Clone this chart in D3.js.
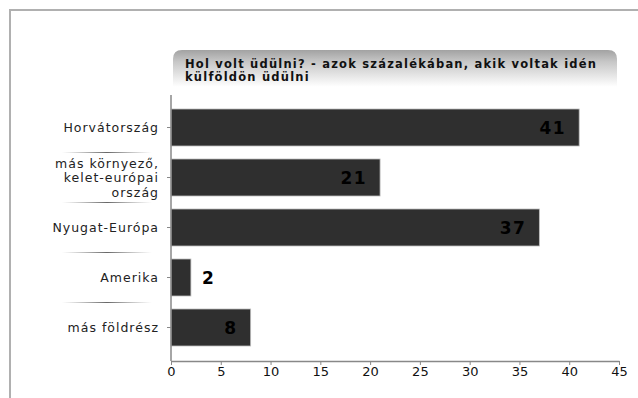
<!DOCTYPE html>
<html><head><meta charset="utf-8">
<script src="https://cdn.jsdelivr.net/npm/d3@7"></script>
<style>body{margin:0;background:#fff}svg{display:block}</style>
</head><body>
<script>
const titleLines = ["Hol volt üdülni? - azok százalékában, akik voltak idén", "külföldön üdülni"];
const categories = ["Horvátország", "más környező, kelet-európai ország", "Nyugat-Európa", "Amerika", "más földrész"];
const categoryLines = [["Horvátország"], ["más környező,", "kelet-európai", "ország"], ["Nyugat-Európa"], ["Amerika"], ["más földrész"]];
const values = [41, 21, 37, 2, 8];
const xTicks = [0, 5, 10, 15, 20, 25, 30, 35, 40, 45];

const W = 638, H = 398;
const svg = d3.select("body").append("svg").attr("width", W).attr("height", H);
const defs = svg.append("defs");
const tg = defs.append("linearGradient").attr("id", "tg").attr("x1", 0).attr("y1", 0).attr("x2", 0).attr("y2", 1);
tg.append("stop").attr("offset", "0%").attr("stop-color", "#a2a2a2");
tg.append("stop").attr("offset", "25%").attr("stop-color", "#c6c6c6");
tg.append("stop").attr("offset", "80%").attr("stop-color", "#ffffff");
const sg = defs.append("linearGradient").attr("id", "sg");
sg.append("stop").attr("offset", "0%").attr("stop-color", "#888").attr("stop-opacity", 0);
sg.append("stop").attr("offset", "50%").attr("stop-color", "#666").attr("stop-opacity", 1);
sg.append("stop").attr("offset", "100%").attr("stop-color", "#888").attr("stop-opacity", 0);

// frame
svg.append("path").attr("d", `M10,${H} V10 H${W}`).attr("fill", "none").attr("stroke", "#b0b0b0").attr("stroke-width", 2);

// title box
svg.append("path").attr("d", "M173,96 V59 Q173,50 182,50 H608 Q617,50 617,59 V96 Z").attr("fill", "url(#tg)");
const tt = svg.append("text").attr("font-family", "DejaVu Sans").attr("font-weight", "bold").attr("font-size", 11.5)
  .attr("letter-spacing", 1.2).attr("fill", "#111");
titleLines.forEach((l, i) => tt.append("tspan").attr("x", 185).attr("y", 68 + i * 13).text(l));

const x = d3.scaleLinear().domain([0, 45]).range([171, 619]);
const y = d3.scaleBand().domain(categories).range([102.5, 352.5]).paddingInner(0.26).paddingOuter(0.13);

// bars
svg.append("g").selectAll("rect").data(values).join("rect")
  .attr("x", x(0)).attr("y", (d, i) => y(categories[i]))
  .attr("width", d => x(d) - x(0)).attr("height", y.bandwidth())
  .attr("fill", "#2f2f2f").attr("stroke", "#bdbdbd").attr("stroke-width", 0.8);

// value labels
svg.append("g").selectAll("text").data(values).join("text")
  .attr("x", d => d < 5 ? x(d) + 11 : x(d) - 13)
  .attr("y", (d, i) => y(categories[i]) + y.bandwidth() / 2 + 6)
  .attr("text-anchor", d => d < 5 ? "start" : "end")
  .attr("font-family", "DejaVu Sans").attr("font-weight", "bold").attr("font-size", 17)
  .attr("letter-spacing", 1.5).attr("fill", "#000").text(d => d);

// y axis
svg.append("line").attr("x1", 171).attr("x2", 171).attr("y1", 95).attr("y2", 361).attr("stroke", "#888").attr("stroke-width", 1.5);
const yAxis = d3.axisLeft(y).tickSize(4).tickFormat("");
const ya = svg.append("g").attr("transform", "translate(171,0)").call(yAxis);
ya.select(".domain").remove();
ya.selectAll(".tick line").attr("stroke", "#888");

// category labels
const cl = svg.append("g").attr("font-family", "DejaVu Sans").attr("font-size", 12.5).attr("fill", "#222")
  .attr("letter-spacing", 1).attr("text-anchor", "end");
categoryLines.forEach((lines, i) => {
  const cy = y(categories[i]) + y.bandwidth() / 2;
  const t = cl.append("text");
  lines.forEach((l, j) => t.append("tspan").attr("x", 159).attr("y", cy + 4.5 + (j - (lines.length - 1) / 2) * 14.5).text(l));
});
// separators
svg.append("g").selectAll("rect").data(categories.slice(1)).join("rect")
  .attr("x", 62).attr("width", 90).attr("height", 1)
  .attr("y", d => y(d) - y.step() * 0.13 - 0.5)
  .attr("fill", "url(#sg)");

// x axis
const xAxis = d3.axisBottom(x).tickValues(xTicks).tickSize(4).tickSizeOuter(0);
const xa = svg.append("g").attr("transform", "translate(0,361)").call(xAxis);
xa.select(".domain").attr("stroke", "#888").attr("stroke-width", 1.5);
xa.selectAll(".tick line").attr("stroke", "#888");
xa.selectAll(".tick text").attr("font-family", "DejaVu Sans").attr("font-size", 13).attr("fill", "#111").attr("dy", "0.9em").attr("y", 3);
</script>
</body></html>
